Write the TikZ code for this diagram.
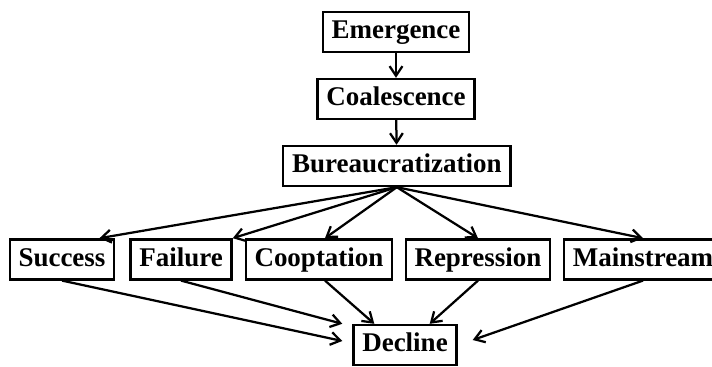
\documentclass[tikz,border=0pt]{standalone}
\usepackage{fontspec}
\setmainfont{Liberation Serif}
\usepackage{tikz}
\usetikzlibrary{positioning, arrows.meta, calc}
\tikzset{every picture/.append style={thick}}
\tikzset{
    stage/.style={draw, line width=1.7pt, inner xsep=0.22cm, inner ysep=0cm,
        minimum height=1.0cm, text height=0.47cm, text depth=0.12cm,
        font=\fontsize{19.2}{22}\selectfont\bfseries},
    flow/.style={line width=1.6pt, -{Straight Barb[length=2.4mm,width=3.2mm]}}
}

\begin{document}
\begin{tikzpicture}
        \useasboundingbox (0,0) rectangle (17.8,9.175);

        % ==========================================
        % TOP: Stages in a column
        % ==========================================
        \node[stage] (emerg) at (9.9, 8.375) {Emergence};
        \node[stage] (coal) at (9.9, 6.7) {Coalescence};
        \node[stage] (bureau) at (9.92, 5.025) {Bureaucratization};

        \draw[flow] (emerg) -- (coal);
        \draw[flow] (coal) -- (bureau);

        % ==========================================
        % MIDDLE: Possible outcomes
        % ==========================================
        \node[stage] (succ) at (1.55, 2.69) {Success};
        \node[stage] (fail) at (4.525, 2.69) {Failure};
        \node[stage] (coopt) at (7.975, 2.69) {Cooptation};
        \node[stage] (repr) at (11.95, 2.69) {Repression};
        \node[stage] (main) at (16.075, 2.69) {Mainstream};

        \draw[flow] (bureau.south) -- ([xshift=-0.4cm]succ.north east);
        \draw[flow] (bureau.south) -- (fail.north east);
        \draw[flow] (bureau.south) -- ([xshift=0.15cm]coopt.north);
        \draw[flow] (bureau.south) -- (repr.north);
        \draw[flow] (bureau.south) -- (main.north);

        % ==========================================
        % BOTTOM: Decline
        % ==========================================
        \node[stage] (decl) at (10.125, 0.55) {Decline};

        \draw[flow] (succ.south) -- ([xshift=-0.25cm, yshift=0.1cm]decl.west);
        \draw[flow] (fail.south) -- ([xshift=-0.25cm]decl.north west);
        \draw[flow] ([xshift=0.15cm]coopt.south) -- ([xshift=0.55cm]decl.north west);
        \draw[flow] (repr.south) -- ([xshift=-0.7cm]decl.north east);
        \draw[flow] (main.south) -- ([xshift=0.375cm, yshift=0.125cm]decl.east);

\end{tikzpicture}
\end{document}
